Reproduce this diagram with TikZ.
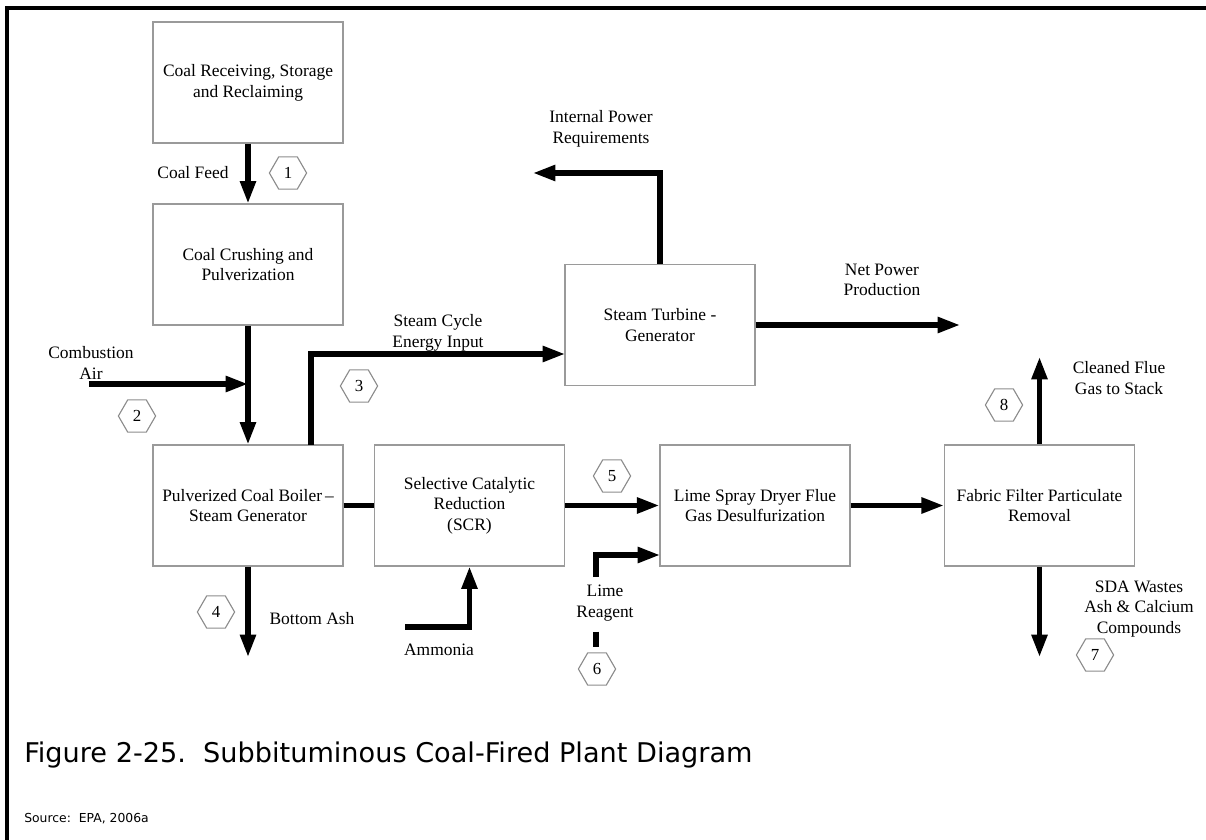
\documentclass[tikz,border=0pt]{standalone}
\usepackage{fontspec}
\setmainfont{Liberation Serif}
\newfontfamily\capfont{DejaVu Sans}
\usetikzlibrary{arrows.meta, positioning, calc, shapes.geometric}
\definecolor{boxgray}{HTML}{9A9A9A}
\definecolor{hexgray}{HTML}{8C8C8C}

\begin{document}
\begin{tikzpicture}[
  x=0.025cm, y=-0.025cm,
  >={Triangle[length=5.6mm, width=3.8mm]},
  procbox/.style={draw=boxgray, line width=0.9pt, minimum width=4.75cm,
    minimum height=3.02cm, align=center, inner sep=2pt,
    font=\fontsize{12.4}{14.7}\selectfont},
  flow/.style={->, line width=3.6pt},
  flowline/.style={line width=3.6pt},
  hexlbl/.style={draw=hexgray, line width=0.8pt, shape=regular polygon,
    regular polygon sides=6, minimum size=0.93cm, inner sep=0pt,
    font=\fontsize{12}{14}\selectfont},
  streamlbl/.style={align=center, font=\fontsize{12.4}{14.7}\selectfont},
]

\useasboundingbox (0,0) rectangle (1206,840);

% Frame
\draw[line width=2.2pt] (7,840) -- (7,8) -- (1206,8);

% === Process boxes ===
\node[procbox] (receive) at (248,82.5) {Coal Receiving, Storage\\and Reclaiming};
\node[procbox] (crush) at (248,264.5) {Coal Crushing and\\Pulverization};
\node[procbox] (boiler) at (248,505.5) {Pulverized Coal Boiler\,--\\Steam Generator};
\node[procbox] (scr) at (469.5,505.5) {Selective Catalytic\\Reduction\\(SCR)};
\node[procbox] (lsd) at (755,505.5) {Lime Spray Dryer Flue\\Gas Desulfurization};
\node[procbox] (fabric) at (1039.5,505.5) {Fabric Filter Particulate\\Removal};
\node[procbox] (turbine) at (660,325) {Steam Turbine -\\Generator};

% === Free ends ===
\coordinate (airin) at (89,384);
\coordinate (steamup) at (311,445);
\coordinate (steamin) at (565,354);
\coordinate (nh3in) at (405,627);
\coordinate (limetop) at (596,577);
\coordinate (limein) at (660,555);
\coordinate (ashout) at (248,657);
\coordinate (stackout) at (1039.5,357);
\coordinate (wasteout) at (1039.5,657);
\coordinate (netout) at (960,325);
\coordinate (intout) at (533,173);

% === Stream labels ===
\node[streamlbl] (feedlbl) at (193,173) {Coal Feed};
\node[streamlbl] (airlbl) at (91,363) {Combustion\\Air};
\node[streamlbl] (steamlbl) at (438,333) {Steam Cycle\\Energy Input};
\node[streamlbl] (ashlbl) at (312,619) {Bottom Ash};
\node[streamlbl] (nh3lbl) at (439,650) {Ammonia};
\node[streamlbl] (limelbl) at (605,603) {Lime\\Reagent};
\node[streamlbl] (intlbl) at (601,129) {Internal Power\\Requirements};
\node[streamlbl] (netlbl) at (882,280) {Net Power\\Production};
\node[streamlbl] (stacklbl) at (1119,378) {Cleaned Flue\\Gas to Stack};
\node[streamlbl] (wastelbl) at (1139,609) {SDA Wastes\\Ash \& Calcium\\Compounds};

% === Stream numbers ===
\node[hexlbl] (s1) at (288,173) {1};
\node[hexlbl] (s2) at (137,416) {2};
\node[hexlbl] (s3) at (359,386) {3};
\node[hexlbl] (s4) at (216,612) {4};
\node[hexlbl] (s5) at (612,476) {5};
\node[hexlbl] (s6) at (597,669) {6};
\node[hexlbl] (s7) at (1095,655) {7};
\node[hexlbl] (s8) at (1004,405) {8};

% === Connectors ===
\draw[flow] (receive) -- (crush);
\draw[flow] (crush) -- (boiler);
\draw[flow] (airin) -- (airin -| crush.south);
\draw[flow] (steamup) |- (steamin);
\draw[flowline] (boiler) -- (scr);
\draw[flow] (scr) -- (lsd);
\draw[flow] (nh3in) -| (scr.south);
\draw[flow] (limetop) |- (limein);
\draw[flowline, shorten <=4pt, shorten >=4pt] (limelbl.south -| limetop) -- (s6.north -| limetop);
\draw[flow] (boiler.south) -- (ashout);
\draw[flow] (lsd) -- (fabric);
\draw[flow] (fabric.north) -- (stackout);
\draw[flow] (fabric.south) -- (wasteout);
\draw[flow] (turbine.east) -- (netout);
\draw[flow] (turbine.north) |- (intout);

% === Caption ===
\node[anchor=base west, inner sep=0pt, font=\capfont\fontsize{19.3}{22}\selectfont] (title)
  at (24,762) {Figure 2-25.\ \ Subbituminous Coal-Fired Plant Diagram};
\node[anchor=base west, inner sep=0pt, font=\capfont\fontsize{8.8}{11}\selectfont] (source)
  at (24,822) {Source:\ \ EPA, 2006a};

\end{tikzpicture}
\end{document}
